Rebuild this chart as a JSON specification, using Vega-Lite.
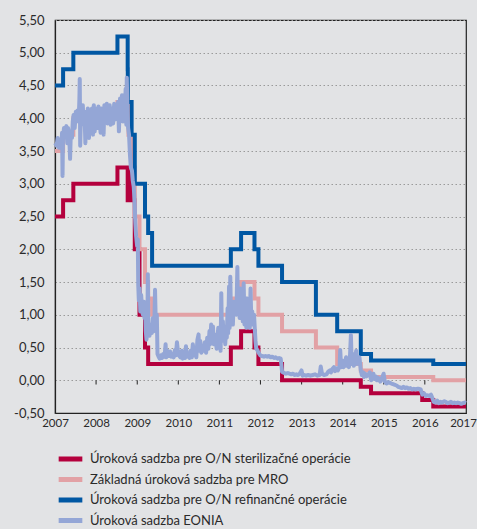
{
  "$schema": "https://vega.github.io/schema/vega-lite/v6.json",
  "autosize": "none",
  "width": 411,
  "height": 393,
  "padding": {"left": 55, "top": 20, "right": 11, "bottom": 116},
  "background": "#e2e3e5",
  "config": {
    "view": {"stroke": "#222", "strokeWidth": 1.2},
    "axis": {"labelFont": "Lato", "labelColor": "#2a2a2a", "title": null}
  },
  "datasets": {
    "policy": [
      {"date": "2007-01-01", "s": "Úroková sadzba pre O/N sterilizačné operácie", "v": 2.50},
      {"date": "2007-03-14", "s": "Úroková sadzba pre O/N sterilizačné operácie", "v": 2.75},
      {"date": "2007-06-13", "s": "Úroková sadzba pre O/N sterilizačné operácie", "v": 3.00},
      {"date": "2008-07-09", "s": "Úroková sadzba pre O/N sterilizačné operácie", "v": 3.25},
      {"date": "2008-10-08", "s": "Úroková sadzba pre O/N sterilizačné operácie", "v": 2.75},
      {"date": "2008-10-09", "s": "Úroková sadzba pre O/N sterilizačné operácie", "v": 3.25},
      {"date": "2008-11-12", "s": "Úroková sadzba pre O/N sterilizačné operácie", "v": 2.75},
      {"date": "2008-12-10", "s": "Úroková sadzba pre O/N sterilizačné operácie", "v": 2.00},
      {"date": "2009-01-21", "s": "Úroková sadzba pre O/N sterilizačné operácie", "v": 1.00},
      {"date": "2009-03-11", "s": "Úroková sadzba pre O/N sterilizačné operácie", "v": 0.50},
      {"date": "2009-04-08", "s": "Úroková sadzba pre O/N sterilizačné operácie", "v": 0.25},
      {"date": "2011-04-13", "s": "Úroková sadzba pre O/N sterilizačné operácie", "v": 0.50},
      {"date": "2011-07-13", "s": "Úroková sadzba pre O/N sterilizačné operácie", "v": 0.75},
      {"date": "2011-11-09", "s": "Úroková sadzba pre O/N sterilizačné operácie", "v": 0.50},
      {"date": "2011-12-14", "s": "Úroková sadzba pre O/N sterilizačné operácie", "v": 0.25},
      {"date": "2012-07-11", "s": "Úroková sadzba pre O/N sterilizačné operácie", "v": 0.00},
      {"date": "2014-06-11", "s": "Úroková sadzba pre O/N sterilizačné operácie", "v": -0.10},
      {"date": "2014-09-10", "s": "Úroková sadzba pre O/N sterilizačné operácie", "v": -0.20},
      {"date": "2015-12-09", "s": "Úroková sadzba pre O/N sterilizačné operácie", "v": -0.30},
      {"date": "2016-03-16", "s": "Úroková sadzba pre O/N sterilizačné operácie", "v": -0.40},
      {"date": "2017-01-01", "s": "Úroková sadzba pre O/N sterilizačné operácie", "v": -0.40},
      {"date": "2007-01-01", "s": "Základná úroková sadzba pre MRO", "v": 3.50},
      {"date": "2007-03-14", "s": "Základná úroková sadzba pre MRO", "v": 3.75},
      {"date": "2007-06-13", "s": "Základná úroková sadzba pre MRO", "v": 4.00},
      {"date": "2008-07-09", "s": "Základná úroková sadzba pre MRO", "v": 4.25},
      {"date": "2008-10-15", "s": "Základná úroková sadzba pre MRO", "v": 3.75},
      {"date": "2008-11-12", "s": "Základná úroková sadzba pre MRO", "v": 3.25},
      {"date": "2008-12-10", "s": "Základná úroková sadzba pre MRO", "v": 2.50},
      {"date": "2009-01-21", "s": "Základná úroková sadzba pre MRO", "v": 2.00},
      {"date": "2009-03-11", "s": "Základná úroková sadzba pre MRO", "v": 1.50},
      {"date": "2009-04-08", "s": "Základná úroková sadzba pre MRO", "v": 1.25},
      {"date": "2009-05-13", "s": "Základná úroková sadzba pre MRO", "v": 1.00},
      {"date": "2011-04-13", "s": "Základná úroková sadzba pre MRO", "v": 1.25},
      {"date": "2011-07-13", "s": "Základná úroková sadzba pre MRO", "v": 1.50},
      {"date": "2011-11-09", "s": "Základná úroková sadzba pre MRO", "v": 1.25},
      {"date": "2011-12-14", "s": "Základná úroková sadzba pre MRO", "v": 1.00},
      {"date": "2012-07-11", "s": "Základná úroková sadzba pre MRO", "v": 0.75},
      {"date": "2013-05-08", "s": "Základná úroková sadzba pre MRO", "v": 0.50},
      {"date": "2013-11-13", "s": "Základná úroková sadzba pre MRO", "v": 0.25},
      {"date": "2014-06-11", "s": "Základná úroková sadzba pre MRO", "v": 0.15},
      {"date": "2014-09-10", "s": "Základná úroková sadzba pre MRO", "v": 0.05},
      {"date": "2016-03-16", "s": "Základná úroková sadzba pre MRO", "v": 0.00},
      {"date": "2017-01-01", "s": "Základná úroková sadzba pre MRO", "v": 0.00},
      {"date": "2007-01-01", "s": "Úroková sadzba pre O/N refinančné operácie", "v": 4.50},
      {"date": "2007-03-14", "s": "Úroková sadzba pre O/N refinančné operácie", "v": 4.75},
      {"date": "2007-06-13", "s": "Úroková sadzba pre O/N refinančné operácie", "v": 5.00},
      {"date": "2008-07-09", "s": "Úroková sadzba pre O/N refinančné operácie", "v": 5.25},
      {"date": "2008-10-08", "s": "Úroková sadzba pre O/N refinančné operácie", "v": 4.75},
      {"date": "2008-10-09", "s": "Úroková sadzba pre O/N refinančné operácie", "v": 4.25},
      {"date": "2008-11-12", "s": "Úroková sadzba pre O/N refinančné operácie", "v": 3.75},
      {"date": "2008-12-10", "s": "Úroková sadzba pre O/N refinančné operácie", "v": 3.00},
      {"date": "2009-03-11", "s": "Úroková sadzba pre O/N refinančné operácie", "v": 2.50},
      {"date": "2009-04-08", "s": "Úroková sadzba pre O/N refinančné operácie", "v": 2.25},
      {"date": "2009-05-13", "s": "Úroková sadzba pre O/N refinančné operácie", "v": 1.75},
      {"date": "2011-04-13", "s": "Úroková sadzba pre O/N refinančné operácie", "v": 2.00},
      {"date": "2011-07-13", "s": "Úroková sadzba pre O/N refinančné operácie", "v": 2.25},
      {"date": "2011-11-09", "s": "Úroková sadzba pre O/N refinančné operácie", "v": 2.00},
      {"date": "2011-12-14", "s": "Úroková sadzba pre O/N refinančné operácie", "v": 1.75},
      {"date": "2012-07-11", "s": "Úroková sadzba pre O/N refinančné operácie", "v": 1.50},
      {"date": "2013-05-08", "s": "Úroková sadzba pre O/N refinančné operácie", "v": 1.00},
      {"date": "2013-11-13", "s": "Úroková sadzba pre O/N refinančné operácie", "v": 0.75},
      {"date": "2014-06-11", "s": "Úroková sadzba pre O/N refinančné operácie", "v": 0.40},
      {"date": "2014-09-10", "s": "Úroková sadzba pre O/N refinančné operácie", "v": 0.30},
      {"date": "2016-03-16", "s": "Úroková sadzba pre O/N refinančné operácie", "v": 0.25},
      {"date": "2017-01-01", "s": "Úroková sadzba pre O/N refinančné operácie", "v": 0.25}
    ],
    "eonia": [
      {"date": "2007-01-02", "v": 3.62}, {"date": "2007-01-15", "v": 3.58}, {"date": "2007-01-25", "v": 3.70},
      {"date": "2007-02-05", "v": 3.55}, {"date": "2007-02-15", "v": 3.65}, {"date": "2007-02-26", "v": 3.58},
      {"date": "2007-03-05", "v": 3.78}, {"date": "2007-03-09", "v": 3.12}, {"date": "2007-03-13", "v": 3.70},
      {"date": "2007-03-22", "v": 3.85}, {"date": "2007-04-02", "v": 3.78}, {"date": "2007-04-12", "v": 3.88},
      {"date": "2007-04-20", "v": 3.62}, {"date": "2007-04-27", "v": 3.85}, {"date": "2007-05-08", "v": 3.70},
      {"date": "2007-05-15", "v": 3.38}, {"date": "2007-05-22", "v": 3.80}, {"date": "2007-06-01", "v": 3.70},
      {"date": "2007-06-08", "v": 3.95}, {"date": "2007-06-15", "v": 4.05}, {"date": "2007-06-25", "v": 3.85},
      {"date": "2007-07-05", "v": 4.10}, {"date": "2007-07-12", "v": 3.95}, {"date": "2007-07-20", "v": 4.12},
      {"date": "2007-08-01", "v": 4.05}, {"date": "2007-08-06", "v": 4.30}, {"date": "2007-08-09", "v": 4.60},
      {"date": "2007-08-13", "v": 3.58}, {"date": "2007-08-20", "v": 4.10}, {"date": "2007-08-28", "v": 3.90},
      {"date": "2007-09-05", "v": 4.20}, {"date": "2007-09-12", "v": 3.95}, {"date": "2007-09-20", "v": 4.10},
      {"date": "2007-09-28", "v": 3.62}, {"date": "2007-10-05", "v": 4.05}, {"date": "2007-10-12", "v": 3.85},
      {"date": "2007-10-20", "v": 4.15}, {"date": "2007-10-30", "v": 3.70}, {"date": "2007-11-08", "v": 4.10},
      {"date": "2007-11-15", "v": 3.95}, {"date": "2007-11-25", "v": 4.15}, {"date": "2007-12-05", "v": 3.75},
      {"date": "2007-12-12", "v": 4.20}, {"date": "2007-12-20", "v": 3.80}, {"date": "2007-12-28", "v": 4.15},
      {"date": "2008-01-08", "v": 4.10}, {"date": "2008-01-15", "v": 3.85}, {"date": "2008-01-22", "v": 4.18},
      {"date": "2008-02-01", "v": 4.00}, {"date": "2008-02-10", "v": 3.78}, {"date": "2008-02-18", "v": 4.15},
      {"date": "2008-03-01", "v": 4.05}, {"date": "2008-03-08", "v": 3.75}, {"date": "2008-03-15", "v": 4.20},
      {"date": "2008-03-25", "v": 4.05}, {"date": "2008-04-05", "v": 4.22}, {"date": "2008-04-12", "v": 3.92},
      {"date": "2008-04-20", "v": 4.10}, {"date": "2008-05-01", "v": 4.20}, {"date": "2008-05-10", "v": 3.90},
      {"date": "2008-05-20", "v": 4.15}, {"date": "2008-06-01", "v": 3.92}, {"date": "2008-06-10", "v": 4.22},
      {"date": "2008-06-18", "v": 3.98}, {"date": "2008-06-28", "v": 4.20}, {"date": "2008-07-06", "v": 4.05},
      {"date": "2008-07-15", "v": 4.25}, {"date": "2008-07-22", "v": 3.80}, {"date": "2008-08-01", "v": 4.30},
      {"date": "2008-08-10", "v": 4.05}, {"date": "2008-08-18", "v": 4.35}, {"date": "2008-08-27", "v": 3.95},
      {"date": "2008-09-05", "v": 4.35}, {"date": "2008-09-12", "v": 4.05}, {"date": "2008-09-20", "v": 4.45},
      {"date": "2008-09-26", "v": 3.90}, {"date": "2008-09-30", "v": 4.62}, {"date": "2008-10-06", "v": 4.10},
      {"date": "2008-10-12", "v": 3.85}, {"date": "2008-10-20", "v": 3.75}, {"date": "2008-10-28", "v": 3.45},
      {"date": "2008-11-05", "v": 3.25}, {"date": "2008-11-15", "v": 3.20}, {"date": "2008-11-22", "v": 3.05},
      {"date": "2008-12-01", "v": 2.95}, {"date": "2008-12-08", "v": 2.75}, {"date": "2008-12-15", "v": 2.40},
      {"date": "2008-12-22", "v": 2.20}, {"date": "2008-12-31", "v": 2.05},
      {"date": "2009-01-06", "v": 2.15}, {"date": "2009-01-10", "v": 1.45}, {"date": "2009-01-15", "v": 1.22},
      {"date": "2009-01-22", "v": 1.40}, {"date": "2009-01-28", "v": 1.05}, {"date": "2009-02-05", "v": 1.30},
      {"date": "2009-02-12", "v": 1.10}, {"date": "2009-02-20", "v": 1.00}, {"date": "2009-03-01", "v": 1.20},
      {"date": "2009-03-06", "v": 0.95}, {"date": "2009-03-12", "v": 1.10}, {"date": "2009-03-18", "v": 0.75},
      {"date": "2009-03-24", "v": 0.62}, {"date": "2009-04-01", "v": 0.75}, {"date": "2009-04-05", "v": 1.62},
      {"date": "2009-04-10", "v": 0.80}, {"date": "2009-04-20", "v": 0.68}, {"date": "2009-05-01", "v": 0.85},
      {"date": "2009-05-10", "v": 0.72}, {"date": "2009-05-20", "v": 0.95}, {"date": "2009-06-01", "v": 0.75},
      {"date": "2009-06-08", "v": 1.38}, {"date": "2009-06-15", "v": 0.85}, {"date": "2009-06-24", "v": 1.00},
      {"date": "2009-06-30", "v": 0.40}, {"date": "2009-07-10", "v": 0.36}, {"date": "2009-07-20", "v": 0.33},
      {"date": "2009-08-01", "v": 0.38}, {"date": "2009-08-10", "v": 0.34}, {"date": "2009-08-20", "v": 0.40},
      {"date": "2009-09-01", "v": 0.36}, {"date": "2009-09-10", "v": 0.55}, {"date": "2009-09-15", "v": 0.35},
      {"date": "2009-09-25", "v": 0.45}, {"date": "2009-09-30", "v": 0.40}, {"date": "2009-10-10", "v": 0.37},
      {"date": "2009-10-20", "v": 0.44}, {"date": "2009-11-01", "v": 0.36}, {"date": "2009-11-10", "v": 0.40},
      {"date": "2009-11-20", "v": 0.35}, {"date": "2009-12-01", "v": 0.46}, {"date": "2009-12-10", "v": 0.38},
      {"date": "2009-12-20", "v": 0.58}, {"date": "2009-12-31", "v": 0.40},
      {"date": "2010-01-10", "v": 0.37}, {"date": "2010-01-20", "v": 0.35}, {"date": "2010-02-01", "v": 0.45},
      {"date": "2010-02-10", "v": 0.33}, {"date": "2010-02-20", "v": 0.42}, {"date": "2010-03-01", "v": 0.34},
      {"date": "2010-03-10", "v": 0.52}, {"date": "2010-03-18", "v": 0.36}, {"date": "2010-03-30", "v": 0.40},
      {"date": "2010-04-10", "v": 0.34}, {"date": "2010-04-20", "v": 0.45}, {"date": "2010-05-01", "v": 0.35},
      {"date": "2010-05-10", "v": 0.55}, {"date": "2010-05-20", "v": 0.38}, {"date": "2010-06-01", "v": 0.42},
      {"date": "2010-06-10", "v": 0.35}, {"date": "2010-06-20", "v": 0.62}, {"date": "2010-06-30", "v": 0.70},
      {"date": "2010-07-05", "v": 0.45}, {"date": "2010-07-15", "v": 0.60}, {"date": "2010-07-25", "v": 0.42},
      {"date": "2010-08-05", "v": 0.48}, {"date": "2010-08-15", "v": 0.45}, {"date": "2010-08-25", "v": 0.58},
      {"date": "2010-09-05", "v": 0.42}, {"date": "2010-09-15", "v": 0.65}, {"date": "2010-09-25", "v": 0.48},
      {"date": "2010-10-05", "v": 0.75}, {"date": "2010-10-12", "v": 0.55}, {"date": "2010-10-20", "v": 0.85},
      {"date": "2010-10-28", "v": 0.60}, {"date": "2010-11-05", "v": 0.82}, {"date": "2010-11-12", "v": 0.55},
      {"date": "2010-11-20", "v": 0.70}, {"date": "2010-11-30", "v": 0.60}, {"date": "2010-12-08", "v": 0.48},
      {"date": "2010-12-15", "v": 0.65}, {"date": "2010-12-22", "v": 0.80}, {"date": "2010-12-31", "v": 0.62},
      {"date": "2011-01-05", "v": 0.60}, {"date": "2011-01-12", "v": 0.45}, {"date": "2011-01-18", "v": 1.33},
      {"date": "2011-01-24", "v": 0.65}, {"date": "2011-02-01", "v": 0.90}, {"date": "2011-02-08", "v": 0.60},
      {"date": "2011-02-15", "v": 0.82}, {"date": "2011-02-22", "v": 0.55}, {"date": "2011-03-01", "v": 0.78},
      {"date": "2011-03-08", "v": 0.65}, {"date": "2011-03-15", "v": 1.10}, {"date": "2011-03-20", "v": 0.72},
      {"date": "2011-03-28", "v": 1.43}, {"date": "2011-04-02", "v": 0.80}, {"date": "2011-04-08", "v": 1.58},
      {"date": "2011-04-14", "v": 0.98}, {"date": "2011-04-22", "v": 1.10}, {"date": "2011-05-01", "v": 0.85},
      {"date": "2011-05-08", "v": 1.20}, {"date": "2011-05-15", "v": 1.05}, {"date": "2011-05-25", "v": 1.12},
      {"date": "2011-06-01", "v": 1.00}, {"date": "2011-06-10", "v": 1.73}, {"date": "2011-06-15", "v": 1.05},
      {"date": "2011-06-22", "v": 1.25}, {"date": "2011-06-30", "v": 0.95}, {"date": "2011-07-05", "v": 1.40},
      {"date": "2011-07-12", "v": 0.95}, {"date": "2011-07-20", "v": 1.15}, {"date": "2011-07-28", "v": 0.90},
      {"date": "2011-08-05", "v": 1.48}, {"date": "2011-08-12", "v": 0.85}, {"date": "2011-08-20", "v": 0.95},
      {"date": "2011-08-29", "v": 0.80}, {"date": "2011-09-05", "v": 1.25}, {"date": "2011-09-12", "v": 0.85},
      {"date": "2011-09-20", "v": 1.05}, {"date": "2011-09-28", "v": 0.80}, {"date": "2011-10-05", "v": 1.40},
      {"date": "2011-10-12", "v": 0.90}, {"date": "2011-10-20", "v": 1.05}, {"date": "2011-10-28", "v": 0.85},
      {"date": "2011-11-05", "v": 1.00}, {"date": "2011-11-12", "v": 0.78}, {"date": "2011-11-18", "v": 0.60},
      {"date": "2011-11-25", "v": 0.48}, {"date": "2011-12-05", "v": 0.46}, {"date": "2011-12-15", "v": 0.42},
      {"date": "2011-12-31", "v": 0.38},
      {"date": "2012-01-15", "v": 0.37}, {"date": "2012-02-01", "v": 0.36}, {"date": "2012-02-15", "v": 0.37},
      {"date": "2012-03-01", "v": 0.36}, {"date": "2012-03-15", "v": 0.37}, {"date": "2012-04-01", "v": 0.35},
      {"date": "2012-04-15", "v": 0.36}, {"date": "2012-05-01", "v": 0.34}, {"date": "2012-05-15", "v": 0.35},
      {"date": "2012-06-01", "v": 0.33}, {"date": "2012-06-15", "v": 0.34}, {"date": "2012-06-29", "v": 0.33},
      {"date": "2012-07-06", "v": 0.22}, {"date": "2012-07-11", "v": 0.13}, {"date": "2012-07-20", "v": 0.12},
      {"date": "2012-08-01", "v": 0.11}, {"date": "2012-08-15", "v": 0.10}, {"date": "2012-09-01", "v": 0.11},
      {"date": "2012-09-15", "v": 0.10}, {"date": "2012-10-01", "v": 0.09}, {"date": "2012-10-15", "v": 0.10},
      {"date": "2012-11-01", "v": 0.08}, {"date": "2012-11-15", "v": 0.09}, {"date": "2012-12-01", "v": 0.08},
      {"date": "2012-12-15", "v": 0.10}, {"date": "2012-12-31", "v": 0.15},
      {"date": "2013-01-10", "v": 0.07}, {"date": "2013-01-25", "v": 0.08}, {"date": "2013-02-10", "v": 0.07},
      {"date": "2013-03-01", "v": 0.08}, {"date": "2013-03-20", "v": 0.07}, {"date": "2013-04-10", "v": 0.08},
      {"date": "2013-05-01", "v": 0.09}, {"date": "2013-05-20", "v": 0.07}, {"date": "2013-06-10", "v": 0.08},
      {"date": "2013-06-20", "v": 0.21}, {"date": "2013-07-01", "v": 0.10}, {"date": "2013-07-20", "v": 0.08},
      {"date": "2013-08-10", "v": 0.09}, {"date": "2013-08-25", "v": 0.13}, {"date": "2013-09-10", "v": 0.15},
      {"date": "2013-09-20", "v": 0.12}, {"date": "2013-10-01", "v": 0.17}, {"date": "2013-10-15", "v": 0.20},
      {"date": "2013-10-25", "v": 0.14}, {"date": "2013-11-10", "v": 0.18}, {"date": "2013-11-20", "v": 0.15},
      {"date": "2013-12-05", "v": 0.22}, {"date": "2013-12-10", "v": 0.46}, {"date": "2013-12-18", "v": 0.20},
      {"date": "2013-12-31", "v": 0.30},
      {"date": "2014-01-08", "v": 0.20}, {"date": "2014-01-20", "v": 0.25}, {"date": "2014-01-31", "v": 0.35},
      {"date": "2014-02-05", "v": 0.22}, {"date": "2014-02-15", "v": 0.28}, {"date": "2014-02-25", "v": 0.20},
      {"date": "2014-03-05", "v": 0.30}, {"date": "2014-03-15", "v": 0.69}, {"date": "2014-03-22", "v": 0.25},
      {"date": "2014-04-01", "v": 0.40}, {"date": "2014-04-10", "v": 0.22}, {"date": "2014-04-20", "v": 0.30},
      {"date": "2014-05-01", "v": 0.45}, {"date": "2014-05-08", "v": 0.25}, {"date": "2014-05-20", "v": 0.30},
      {"date": "2014-05-30", "v": 0.35}, {"date": "2014-06-05", "v": 0.25}, {"date": "2014-06-11", "v": 0.15},
      {"date": "2014-06-20", "v": 0.08}, {"date": "2014-07-01", "v": 0.12}, {"date": "2014-07-10", "v": 0.05},
      {"date": "2014-07-20", "v": 0.10}, {"date": "2014-08-01", "v": 0.06}, {"date": "2014-08-15", "v": 0.08},
      {"date": "2014-08-30", "v": 0.12}, {"date": "2014-09-05", "v": 0.05}, {"date": "2014-09-12", "v": 0.00},
      {"date": "2014-09-22", "v": 0.03}, {"date": "2014-10-01", "v": 0.10}, {"date": "2014-10-10", "v": 0.02},
      {"date": "2014-10-20", "v": 0.06}, {"date": "2014-11-01", "v": 0.00}, {"date": "2014-11-10", "v": 0.04},
      {"date": "2014-11-20", "v": 0.02}, {"date": "2014-12-01", "v": -0.02}, {"date": "2014-12-15", "v": 0.03},
      {"date": "2014-12-31", "v": 0.10},
      {"date": "2015-01-10", "v": -0.02}, {"date": "2015-01-25", "v": -0.05}, {"date": "2015-02-10", "v": -0.03},
      {"date": "2015-02-25", "v": -0.04}, {"date": "2015-03-10", "v": -0.05}, {"date": "2015-03-25", "v": -0.06},
      {"date": "2015-04-10", "v": -0.07}, {"date": "2015-04-25", "v": -0.08}, {"date": "2015-05-10", "v": -0.10},
      {"date": "2015-05-25", "v": -0.11}, {"date": "2015-06-10", "v": -0.12}, {"date": "2015-06-25", "v": -0.10},
      {"date": "2015-07-10", "v": -0.12}, {"date": "2015-07-25", "v": -0.11}, {"date": "2015-08-10", "v": -0.13},
      {"date": "2015-08-25", "v": -0.12}, {"date": "2015-09-10", "v": -0.14}, {"date": "2015-09-25", "v": -0.13},
      {"date": "2015-10-10", "v": -0.14}, {"date": "2015-10-25", "v": -0.13}, {"date": "2015-11-10", "v": -0.13},
      {"date": "2015-11-25", "v": -0.14}, {"date": "2015-12-10", "v": -0.22}, {"date": "2015-12-25", "v": -0.20},
      {"date": "2016-01-10", "v": -0.24}, {"date": "2016-01-25", "v": -0.23}, {"date": "2016-02-10", "v": -0.24},
      {"date": "2016-02-25", "v": -0.22}, {"date": "2016-03-10", "v": -0.28}, {"date": "2016-03-20", "v": -0.33},
      {"date": "2016-04-05", "v": -0.34}, {"date": "2016-04-20", "v": -0.31}, {"date": "2016-05-05", "v": -0.35},
      {"date": "2016-05-20", "v": -0.33}, {"date": "2016-06-05", "v": -0.34}, {"date": "2016-06-20", "v": -0.32},
      {"date": "2016-07-05", "v": -0.33}, {"date": "2016-07-20", "v": -0.35}, {"date": "2016-08-05", "v": -0.34},
      {"date": "2016-08-20", "v": -0.33}, {"date": "2016-09-05", "v": -0.35}, {"date": "2016-09-20", "v": -0.34},
      {"date": "2016-10-05", "v": -0.35}, {"date": "2016-10-20", "v": -0.34}, {"date": "2016-11-05", "v": -0.35},
      {"date": "2016-11-20", "v": -0.36}, {"date": "2016-12-05", "v": -0.35}, {"date": "2016-12-20", "v": -0.34},
      {"date": "2016-12-30", "v": -0.35}
    ],
    "years": [
      {"date": "2008-01-01"}, {"date": "2009-01-01"}, {"date": "2010-01-01"}, {"date": "2011-01-01"},
      {"date": "2012-01-01"}, {"date": "2013-01-01"}, {"date": "2014-01-01"}, {"date": "2015-01-01"},
      {"date": "2016-01-01"}
    ]
  },
  "layer": [
    {
      "data": {"values": [{"z": 0}]},
      "mark": {"type": "rule", "color": "#7d7d7d", "strokeWidth": 1.5},
      "encoding": {"y": {"field": "z", "type": "quantitative"}}
    },
    {
      "data": {"name": "years"},
      "mark": {"type": "rule", "color": "#222", "strokeWidth": 1},
      "encoding": {
        "x": {"field": "date", "type": "temporal"},
        "y": {"datum": 0},
        "y2": {"datum": -0.065}
      }
    },
    {
      "data": {"name": "policy"},
      "mark": {"type": "line", "interpolate": "step-after", "strokeWidth": 4},
      "encoding": {
        "x": {"field": "date", "type": "temporal"},
        "y": {"field": "v", "type": "quantitative"},
        "color": {"field": "s", "type": "nominal"}
      }
    },
    {
      "data": {"name": "eonia"},
      "transform": [{"calculate": "'Úroková sadzba EONIA'", "as": "s"}],
      "mark": {"type": "line", "strokeWidth": 4, "strokeJoin": "round"},
      "encoding": {
        "x": {"field": "date", "type": "temporal"},
        "y": {"field": "v", "type": "quantitative"},
        "color": {"field": "s", "type": "nominal"}
      }
    }
  ],
  "resolve": {"scale": {"color": "shared"}},
  "encoding": {
    "x": {
      "field": "date",
      "type": "temporal",
      "scale": {"domain": [{"year": 2007, "month": 1, "date": 1}, {"year": 2017, "month": 1, "date": 1}]},
      "axis": {
        "format": "%Y",
        "tickCount": {"interval": "year", "step": 1},
        "ticks": false,
        "grid": false,
        "domainColor": "#222",
        "domainWidth": 1.2,
        "labelFontSize": 11.5,
        "labelPadding": 4,
        "labelAlign": "center",
        "labelOffset": {"condition": {"test": "year(datum.value) == 2017", "value": -3}, "value": 0},
        "labelBound": false,
        "labelOverlap": false,
        "labelFlush": false
      }
    },
    "y": {
      "type": "quantitative",
      "scale": {"domain": [-0.5, 5.5], "nice": false, "zero": false},
      "axis": {
        "values": [-0.5, 0, 0.5, 1, 1.5, 2, 2.5, 3, 3.5, 4, 4.5, 5, 5.5],
        "labelExpr": "replace(replace(format(datum.value, '.2f'), '.', ','), '−', '-')",
        "ticks": false,
        "domainColor": "#222",
        "domainWidth": 1.2,
        "grid": true,
        "gridColor": "#9a9a9a",
        "gridDash": [1.5, 2.5],
        "gridWidth": 1,
        "labelFontSize": 13,
        "labelPadding": 11
      }
    },
    "color": {
      "type": "nominal",
      "scale": {
        "domain": [
          "Úroková sadzba pre O/N sterilizačné operácie",
          "Základná úroková sadzba pre MRO",
          "Úroková sadzba pre O/N refinančné operácie",
          "Úroková sadzba EONIA"
        ],
        "range": ["#b4003d", "#e2a1a5", "#0057a3", "#94a6d6"]
      },
      "legend": {
        "title": null,
        "orient": "none",
        "legendX": 1,
        "legendY": 429,
        "direction": "vertical",
        "padding": 0,
        "symbolType": "stroke",
        "symbolStrokeWidth": 5,
        "symbolSize": 560,
        "clipHeight": 20,
        "rowPadding": 0.5,
        "labelOffset": 5,
        "labelFont": "Lato",
        "labelFontSize": 13,
        "labelColor": "#2a2a2a",
        "labelLimit": 0
      }
    }
  }
}
